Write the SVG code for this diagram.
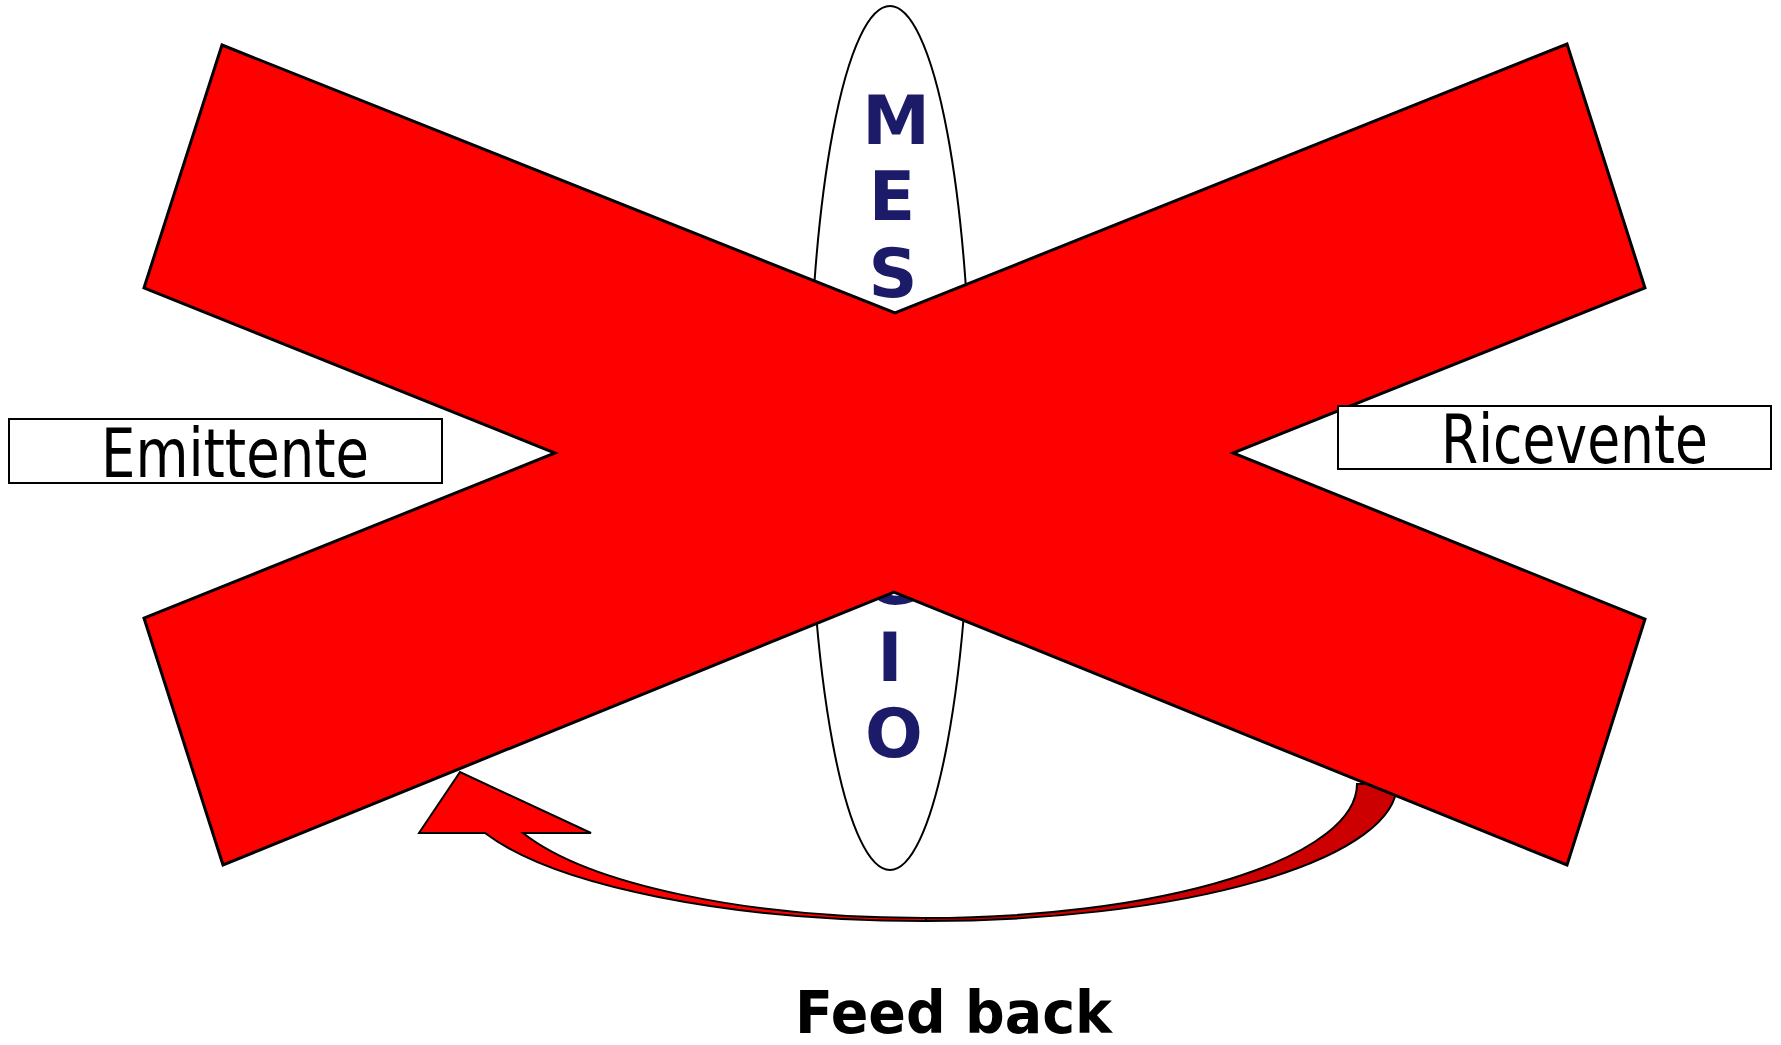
<svg xmlns="http://www.w3.org/2000/svg" width="1781" height="1045" viewBox="0 0 1781 1045">
<style>
.lbl{font-family:"DejaVu Sans","Verdana",sans-serif;font-size:67px;fill:#000}
.msg{font-family:"DejaVu Sans","Verdana",sans-serif;font-weight:bold;font-size:68px;fill:#1b1b69;text-anchor:middle}
.fb{font-family:"DejaVu Sans","Verdana",sans-serif;font-weight:bold;font-size:58px;fill:#000}
.box{fill:#fff;stroke:#000;stroke-width:2}
</style>
<rect width="1781" height="1045" fill="#fff"/>
<g id="messaggio">
<ellipse cx="890" cy="438" rx="81" ry="432" fill="#fff" stroke="#000" stroke-width="2"/>
<text class="msg" x="896" y="144">M</text>
<text class="msg" x="892" y="220">E</text>
<text class="msg" x="893" y="297">S</text>
<text class="msg" x="893" y="374">S</text>
<text class="msg" x="893" y="450">A</text>
<text class="msg" x="893" y="527">G</text>
<text class="msg" x="893" y="604">G</text>
<text class="msg" x="890" y="681">I</text>
<text class="msg" x="894" y="757">O</text>
</g>
<g id="connectors">
<g id="feedback-arrow" stroke="#000" stroke-width="2" stroke-linejoin="miter">
<path d="M 926 921 A 471 137 0 0 0 1397 784 L 1357 784 A 431 134 0 0 1 926 918 Z" fill="#cc0000"/>
<path d="M 419 833 L 460 772 L 591 833 L 523 833 A 431 134 0 0 0 926 918 L 926 921 A 471 137 0 0 1 485 833 Z" fill="#ff0000"/>
</g>
</g>
<g id="cross">
<polygon points="222,45 895,313 1567,44 1645,288 1233,453 1645,619 1567,865 894,592 223,865 144,618 555,453 144,288" fill="#ff0000" stroke="#000" stroke-width="3" stroke-linejoin="miter"/>
</g>
<g id="emittente">
<rect class="box" x="9" y="419" width="433" height="64"/>
<text class="lbl" x="101" y="477" textLength="268" lengthAdjust="spacingAndGlyphs">Emittente</text>
</g>
<g id="ricevente">
<rect class="box" x="1338" y="406" width="433" height="63"/>
<text class="lbl" x="1441" y="463" textLength="267" lengthAdjust="spacingAndGlyphs">Ricevente</text>
</g>
<g id="feedback-label">
<text class="fb" x="795" y="1033" textLength="317" lengthAdjust="spacingAndGlyphs">Feed back</text>
</g>
</svg>
